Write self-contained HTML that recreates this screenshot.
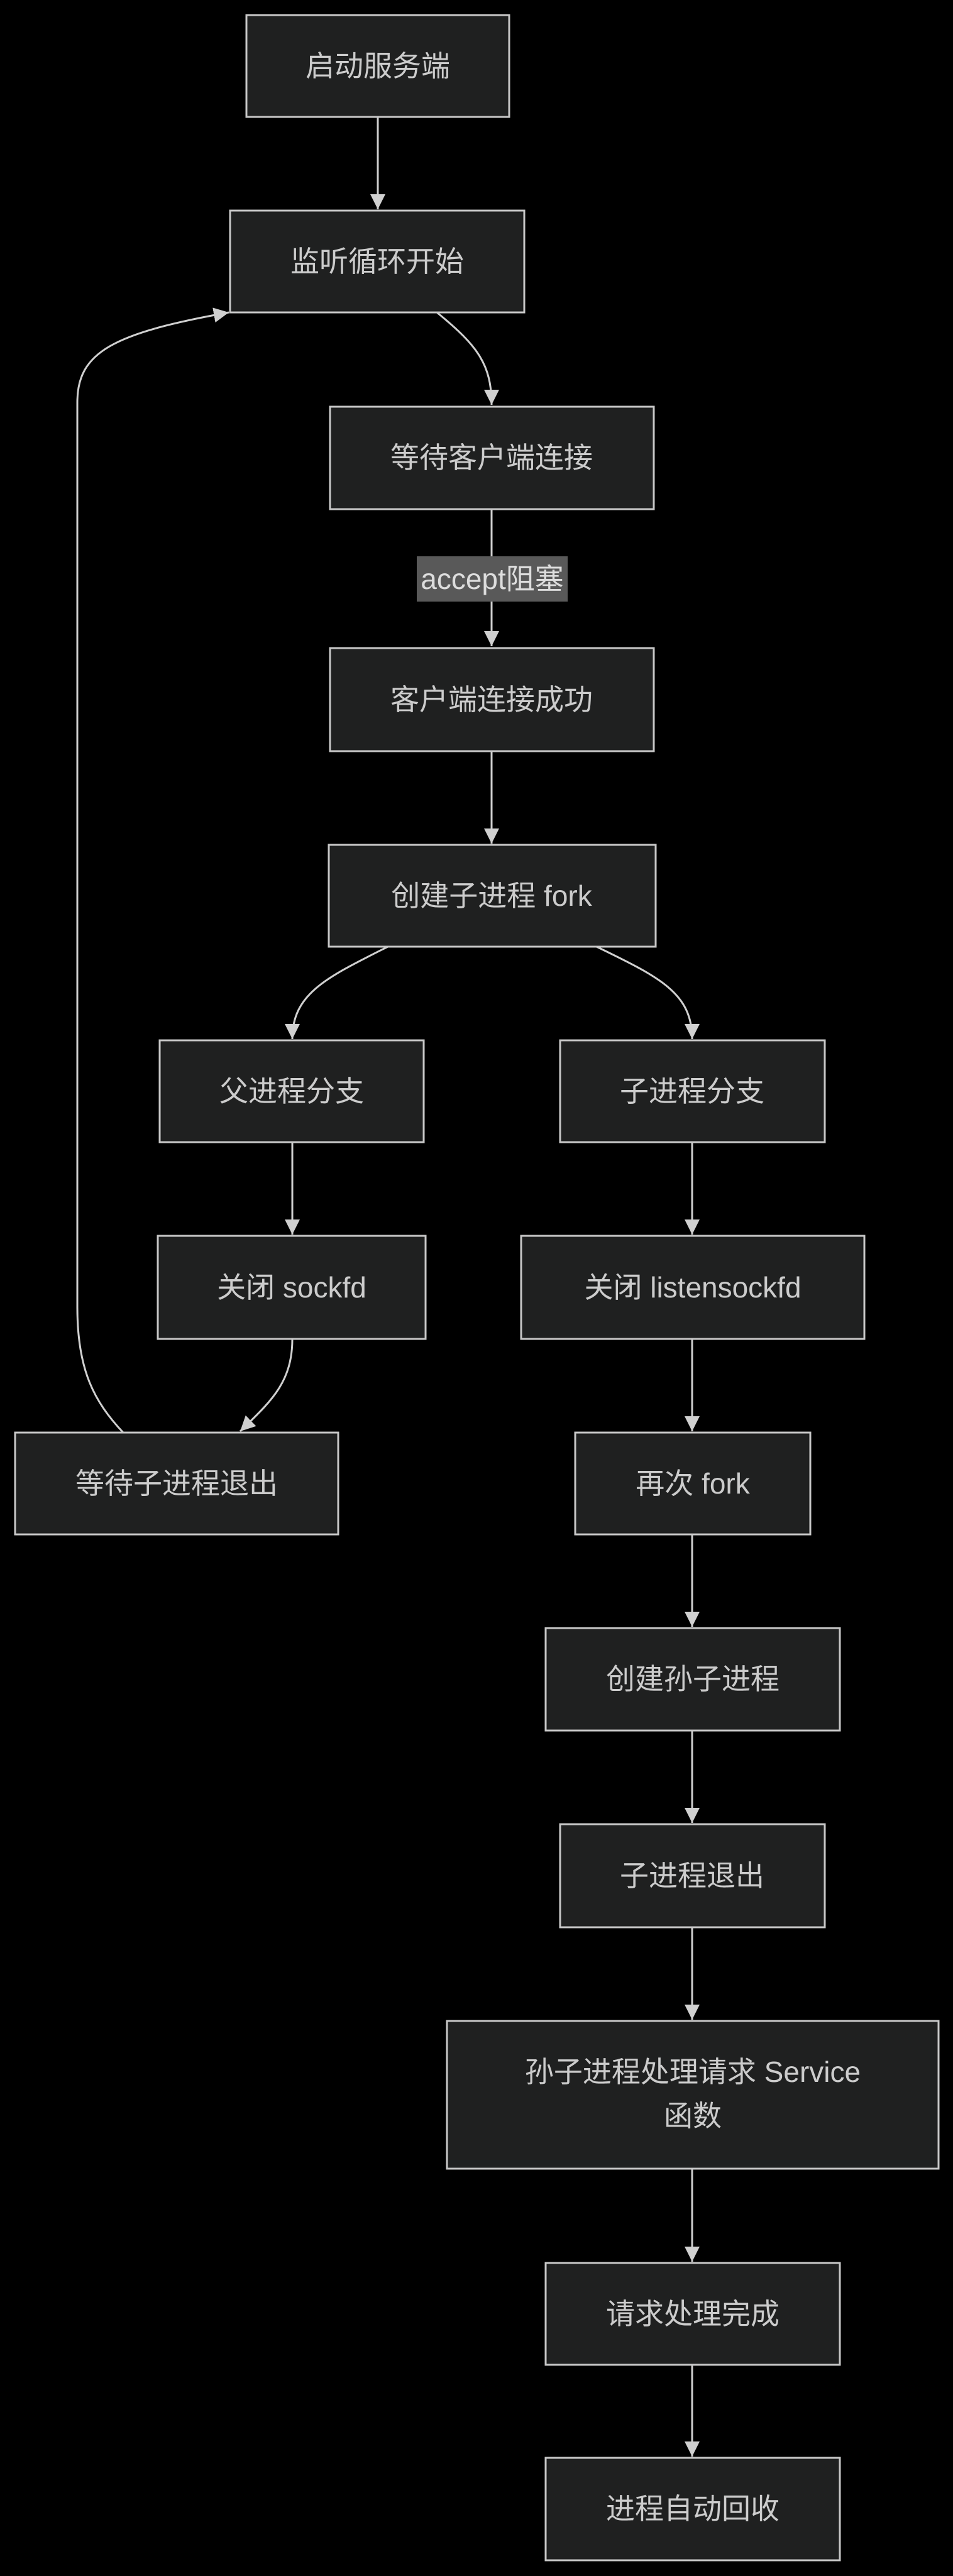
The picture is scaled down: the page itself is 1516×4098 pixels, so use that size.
<!DOCTYPE html>
<html><head><meta charset="utf-8"><style>
html,body{margin:0;padding:0;background:#000;}
svg{display:block}
text{font-family:"Liberation Sans","Noto Sans CJK SC",sans-serif;font-size:46px;fill:#ccc;text-anchor:middle;dominant-baseline:central}
.n{fill:#1f2020;stroke:#c8c8c8;stroke-width:3}
.e{fill:none;stroke:#d0d0d0;stroke-width:3}
</style></head><body>
<svg width="1516" height="4098" viewBox="0 0 1516 4098" xmlns="http://www.w3.org/2000/svg">
<defs><marker id="a" viewBox="0 0 10 10" refX="10" refY="5" markerWidth="8" markerHeight="8" markerUnits="strokeWidth" orient="auto"><path d="M0,0L10,5L0,10z" fill="#d0d0d0"/></marker></defs>
<g>
<path class="e" marker-end="url(#a)" d="M601,186 L601,333"/>
<path class="e" marker-end="url(#a)" d="M695,497 C760,550 782,580 782,644"/>
<path class="e" d="M782,810 L782,886"/>
<path class="e" marker-end="url(#a)" d="M782,956 L782,1028"/>
<path class="e" marker-end="url(#a)" d="M782,1195 L782,1342"/>
<path class="e" marker-end="url(#a)" d="M617,1506 C520,1555 465,1580 465,1653"/>
<path class="e" marker-end="url(#a)" d="M949,1506 C1050,1555 1101,1580 1101,1653"/>
<path class="e" marker-end="url(#a)" d="M465,1817 L465,1964"/>
<path class="e" marker-end="url(#a)" d="M1101,1817 L1101,1964"/>
<path class="e" marker-end="url(#a)" d="M465,2130 C465,2200 430,2230 382,2277"/>
<path class="e" marker-end="url(#a)" d="M196,2279 C150,2230 123,2180 123,2080 L123,640 C123,560 180,530 364,497"/>
<path class="e" marker-end="url(#a)" d="M1101,2130 L1101,2277"/>
<path class="e" marker-end="url(#a)" d="M1101,2441 L1101,2588"/>
<path class="e" marker-end="url(#a)" d="M1101,2753 L1101,2900"/>
<path class="e" marker-end="url(#a)" d="M1101,3066 L1101,3213"/>
<path class="e" marker-end="url(#a)" d="M1101,3450 L1101,3598"/>
<path class="e" marker-end="url(#a)" d="M1101,3762 L1101,3908"/>
</g>
<rect x="663" y="885" width="240" height="72" fill="#595959"/>
<text x="783" y="921" style="fill:#ddd">accept阻塞</text>
<rect class="n" x="392" y="24" width="418" height="162"/><text x="601" y="105">启动服务端</text>
<rect class="n" x="366" y="335" width="468" height="162"/><text x="600" y="416">监听循环开始</text>
<rect class="n" x="525" y="647" width="515" height="163"/><text x="782" y="728">等待客户端连接</text>
<rect class="n" x="525" y="1031" width="515" height="164"/><text x="782" y="1113">客户端连接成功</text>
<rect class="n" x="523" y="1344" width="520" height="162"/><text x="782" y="1425">创建子进程 fork</text>
<rect class="n" x="254" y="1655" width="420" height="162"/><text x="464" y="1736">父进程分支</text>
<rect class="n" x="891" y="1655" width="421" height="162"/><text x="1101" y="1736">子进程分支</text>
<rect class="n" x="251" y="1966" width="426" height="164"/><text x="464" y="2048">关闭 sockfd</text>
<rect class="n" x="829" y="1966" width="546" height="164"/><text x="1102" y="2048">关闭 listensockfd</text>
<rect class="n" x="24" y="2279" width="514" height="162"/><text x="281" y="2360">等待子进程退出</text>
<rect class="n" x="915" y="2279" width="374" height="162"/><text x="1102" y="2360">再次 fork</text>
<rect class="n" x="868" y="2590" width="468" height="163"/><text x="1102" y="2671">创建孙子进程</text>
<rect class="n" x="891" y="2902" width="421" height="164"/><text x="1101" y="2984">子进程退出</text>
<rect class="n" x="711" y="3215" width="782" height="235"/><text x="1102" y="3296">孙子进程处理请求 Service</text><text x="1102" y="3366">函数</text>
<rect class="n" x="868" y="3600" width="468" height="162"/><text x="1102" y="3681">请求处理完成</text>
<rect class="n" x="868" y="3910" width="468" height="163"/><text x="1102" y="3991">进程自动回收</text>
</svg>
</body></html>
